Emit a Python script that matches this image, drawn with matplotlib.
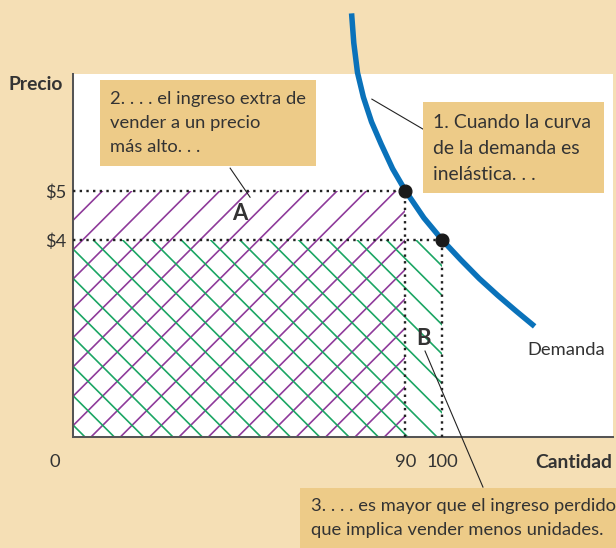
import matplotlib.pyplot as plt
from matplotlib.patches import Rectangle

# demand curve (quantity, price)
demand_q = [75.4, 76.0, 77.0, 78.6, 80.8, 83.4, 86.5, 90, 95, 100, 105, 110, 115, 120, 125]
demand_p = [8.6, 8.0, 7.4, 6.9, 6.4, 5.95, 5.45, 5.0, 4.45, 4.0, 3.6, 3.22, 2.88, 2.56, 2.25]

prices = [4, 5]          # old / new price
quantities = [100, 90]   # old / new quantity
price_labels = ['\\$4', '\\$5']
qty_labels = ['100', '90']

BG = '#F5DFB5'
BOX = '#EDCB88'
TXT = '#333333'
PURPLE = '#8E3A9A'
GREEN = '#1AA563'
BLUE = '#0A72BA'

# dpi picked so that the hatch spacing matches the original (~22 px)
W, H, DPI = 616, 548, 88
k = 132/DPI   # sizes below were tuned at 132 dpi

plt.rcParams['font.family'] = 'Lato'
plt.rcParams['hatch.linewidth'] = 0.9*k

fig = plt.figure(figsize=(W/DPI, H/DPI), dpi=DPI, facecolor=BG)
ax = fig.add_axes([73.3/W, 1-437.3/H, (612.5-73.3)/W, (437.3-74)/H])
ax.set_facecolor('white')
ax.set_xlim(0, 146.1)
ax.set_ylim(0, 7.37)

def fpos(x, y):
    return (x/W, 1-y/H)

# revenue areas
ax.add_patch(Rectangle((0, 0), quantities[1], prices[1], facecolor='none',
                       edgecolor=PURPLE, hatch='/', lw=0, zorder=1))
ax.add_patch(Rectangle((0, 0), quantities[0], prices[0], facecolor='none',
                       edgecolor=GREEN, hatch='\\', lw=0, zorder=1))

dots = dict(color='#222222', lw=1.3*k, ls=(0, (1, 1.8)), zorder=3)
ax.plot([0, quantities[1]], [prices[1], prices[1]], **dots)
ax.plot([0, quantities[0]], [prices[0], prices[0]], **dots)
ax.plot([quantities[1], quantities[1]], [0, prices[1]], **dots)
ax.plot([quantities[0], quantities[0]], [0, prices[0]], **dots)

ax.plot(demand_q, demand_p, color=BLUE, lw=3*k, solid_capstyle='butt', clip_on=False, zorder=4)
ax.plot(quantities, prices, 'o', color='#1a1a1a', ms=7*k, zorder=5)

ax.text(45.2, 4.53, 'A', fontsize=12*k, fontweight='bold', color=TXT, ha='center', va='center')
ax.text(95.0, 2.01, 'B', fontsize=12*k, fontweight='bold', color=TXT, ha='center', va='center')
ax.text(123.1, 1.77, 'Demanda', fontsize=10*k, color=TXT, ha='left', va='center')

# leader lines
lead = dict(color='#222222', lw=0.6*k, clip_on=False, zorder=6)
ax.plot([42.5, 47.9], [5.46, 4.87], **lead)
ax.plot([80.9, 94.8], [6.86, 6.25], **lead)
ax.plot([95.3, 111.0], [1.75, -1.01], **lead)

for s in ['top', 'right']:
    ax.spines[s].set_visible(False)
for s in ['left', 'bottom']:
    ax.spines[s].set_color('#555555')
    ax.spines[s].set_linewidth(1.1*k)

ax.set_xticks(quantities)
ax.set_xticklabels(qty_labels)
ax.set_yticks(prices)
ax.set_yticklabels(price_labels)
ax.tick_params(length=0, labelsize=10*k, colors=TXT)
ax.tick_params(axis='x', pad=9*k)
ax.tick_params(axis='y', pad=4*k)

fig.text(*fpos(55, 462), '0', fontsize=10*k, color=TXT, ha='center', va='center')
fig.text(*fpos(8, 84), 'Precio', fontsize=10.5*k, fontweight='bold', color=TXT, ha='left', va='center')
fig.text(*fpos(612, 462), 'Cantidad', fontsize=10.5*k, fontweight='bold', color=TXT, ha='right', va='center')

# callout boxes
fig.add_artist(Rectangle(fpos(100, 166), 216/W, 86/H, transform=fig.transFigure,
                         facecolor=BOX, edgecolor='none', zorder=7))
fig.text(*fpos(110, 91), '2. . . . el ingreso extra de\nvender a un precio\nmás alto. . .',
         fontsize=10*k, color=TXT, ha='left', va='top', linespacing=1.6, zorder=8)

fig.add_artist(Rectangle(fpos(423, 193), 181/W, 91/H, transform=fig.transFigure,
                         facecolor=BOX, edgecolor='none', zorder=7))
fig.text(*fpos(433, 114), '1. Cuando la curva\nde la demanda es\ninelástica. . .',
         fontsize=10.6*k, color=TXT, ha='left', va='top', linespacing=1.65, zorder=8)

fig.add_artist(Rectangle(fpos(300, 548), 316/W, 60/H, transform=fig.transFigure,
                         facecolor=BOX, edgecolor='none', zorder=7))
fig.text(*fpos(311, 498), '3. . . . es mayor que el ingreso perdido\nque implica vender menos unidades.',
         fontsize=10*k, color=TXT, ha='left', va='top', linespacing=1.65, zorder=8)

fig.savefig('out.png', dpi=DPI, facecolor=BG)
